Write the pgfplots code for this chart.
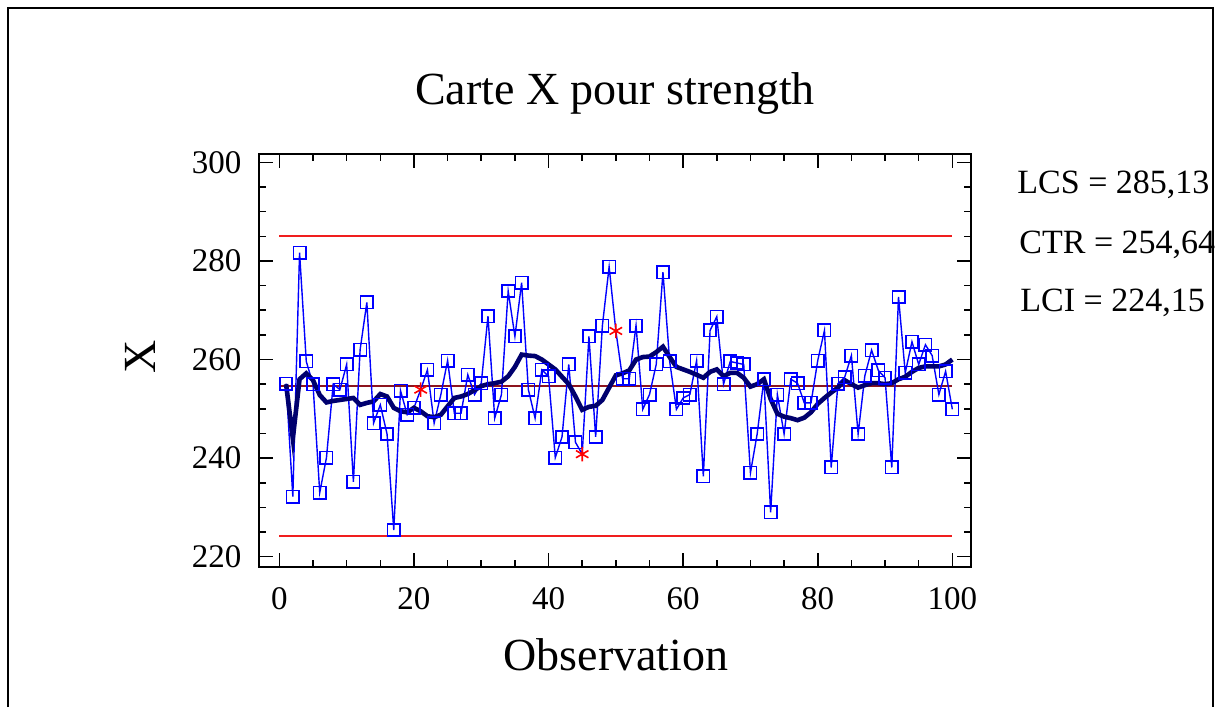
\documentclass[border=0pt]{standalone}
\usepackage{pgfplots}
\pgfplotsset{compat=1.18}
\usepackage{pgfplotstable}
\usepackage{fontspec}
\setmainfont{Liberation Serif}

\definecolor{obsblue}{RGB}{0,0,255}
\definecolor{limred}{RGB}{240,30,30}
\definecolor{ctrred}{RGB}{140,20,30}
\definecolor{smoothnavy}{RGB}{0,0,110}

% individual observations; flag r marks the points shown as red stars
\pgfplotstableread{
n x flag
1 255.1 n
2 232.2 n
3 281.7 n
4 259.6 n
5 255.0 n
6 233.0 n
7 240.1 n
8 255.0 n
9 253.9 n
10 259.0 n
11 235.2 n
12 262.0 n
13 271.6 n
14 247.1 n
15 250.8 n
16 244.9 n
17 225.4 n
18 253.7 n
19 248.8 n
20 250.2 n
21 253.9 r
22 257.9 n
23 247.1 n
24 252.9 n
25 259.8 n
26 249.1 n
27 249.1 n
28 256.9 n
29 252.9 n
30 255.2 n
31 268.8 n
32 248.1 n
33 252.9 n
34 273.9 n
35 264.7 n
36 275.6 n
37 253.9 n
38 248.1 n
39 257.9 n
40 256.6 n
41 240.1 n
42 244.3 n
43 259.0 n
44 243.2 n
45 240.8 r
46 264.7 n
47 244.3 n
48 266.9 n
49 278.8 n
50 265.8 r
51 256.1 n
52 256.1 n
53 266.9 n
54 249.9 n
55 252.9 n
56 259.0 n
57 277.7 n
58 259.6 n
59 249.9 n
60 252.2 n
61 252.9 n
62 259.8 n
63 236.3 n
64 265.9 n
65 268.7 n
66 255.0 n
67 259.6 n
68 259.3 n
69 259.0 n
70 237.0 n
71 244.9 n
72 256.0 n
73 229.0 n
74 252.9 n
75 244.9 n
76 256.0 n
77 255.2 n
78 251.2 n
79 251.2 n
80 259.8 n
81 265.9 n
82 238.1 n
83 255.1 n
84 256.4 n
85 260.8 n
86 244.9 n
87 256.7 n
88 261.9 n
89 257.8 n
90 256.3 n
91 238.1 n
92 272.7 n
93 257.3 n
94 263.6 n
95 259.0 n
96 263.0 n
97 260.8 n
98 252.9 n
99 257.6 n
100 249.9 n
}\strengthdata

% smoothed trace
\pgfplotstableread{
n s
1 255.0
2 244.0
3 256.0
4 257.2
5 255.8
6 252.8
7 251.3
8 251.6
9 251.8
10 252.0
11 252.2
12 250.8
13 251.2
14 251.5
15 253.0
16 252.5
17 250.2
18 249.5
19 249.3
20 250.2
21 249.5
22 248.5
23 248.3
24 248.8
25 250.5
26 252.2
27 252.5
28 253.0
29 253.8
30 254.6
31 255.0
32 255.2
33 255.5
34 256.6
35 258.5
36 261.0
37 260.8
38 260.7
39 260.0
40 259.0
41 258.0
42 256.5
43 255.0
44 252.5
45 249.8
46 250.4
47 250.6
48 251.8
49 254.3
50 256.8
51 257.2
52 257.8
53 260.0
54 260.5
55 260.6
56 261.5
57 262.6
58 260.5
59 258.5
60 258.0
61 257.5
62 256.9
63 256.3
64 257.5
65 258.0
66 256.6
67 257.3
68 257.3
69 256.3
70 254.5
71 255.0
72 256.0
73 252.0
74 249.0
75 248.4
76 248.1
77 247.7
78 248.2
79 249.3
80 251.0
81 252.2
82 253.3
83 254.3
84 255.8
85 255.0
86 254.3
87 254.8
88 255.2
89 255.2
90 255.0
91 255.2
92 256.0
93 256.5
94 257.5
95 258.3
96 258.6
97 258.6
98 258.6
99 259.0
100 260.0
}\smoothdata

\begin{document}
\begin{tikzpicture}
\useasboundingbox (0pt,0pt) rectangle (609.5pt,-353.5pt);
\draw[line width=1.1pt] (4pt,-353.5pt) -- (4pt,-4pt) -- (606.5pt,-4pt) -- (606.5pt,-353.5pt);

\node[anchor=base, font=\fontsize{23}{27}\selectfont] at (307.5pt,-52pt) {Carte X pour strength};
\node[anchor=base, font=\fontsize{23}{27}\selectfont] at (308pt,-335pt) {Observation};
\node[rotate=90, font=\fontsize{23}{27}\selectfont] at (70pt,-178.5pt) {X};

\node[anchor=base west, inner sep=0pt, font=\fontsize{17}{20}\selectfont] at (508.5pt,-96.5pt) {LCS = 285,13};
\node[anchor=base west, inner sep=0pt, font=\fontsize{17}{20}\selectfont] at (509.5pt,-126.5pt) {CTR = 254,64};
\node[anchor=base west, inner sep=0pt, font=\fontsize{17}{20}\selectfont] at (510pt,-155.5pt) {LCI = 224,15};

\begin{axis}[
  at={(129.25pt,-283.5pt)}, anchor=south west,
  scale only axis, width=356pt, height=206.5pt,
  xmin=-3.1, xmax=102.7, ymin=217.9, ymax=301.7,
  xtick={0,20,...,100}, ytick={220,240,...,300},
  minor x tick num=3, minor y tick num=3,
  tick align=inside,
  major tick length=7pt, minor tick length=3.5pt,
  axis line style={line width=1pt},
  every tick/.style={black, line width=0.8pt},
  tick label style={font=\fontsize{16.5}{19}\selectfont},
  yticklabel style={xshift=-5pt},
  xticklabel style={yshift=-6.5pt},
  /pgf/number format/assume math mode=true,
  clip=false,
]
\addplot[limred, line width=0.9pt] coordinates {(0,285.13) (100,285.13)};
\addplot[limred, line width=0.9pt] coordinates {(0,224.15) (100,224.15)};
\addplot[ctrred, line width=0.9pt] coordinates {(0,254.64) (100,254.64)};
\addplot[obsblue, line width=0.7pt, mark=none] table[x=n, y=x] {\strengthdata};
\addplot[scatter, only marks, point meta=explicit symbolic,
  scatter/classes={
    n={mark=square, mark size=3.1pt, draw=obsblue, line width=0.8pt},
    r={mark=asterisk, mark size=3.6pt, draw=red, line width=0.8pt}}]
  table[x=n, y=x, meta=flag] {\strengthdata};
\addplot[smoothnavy, line width=2.3pt, mark=none] table[x=n, y=s] {\smoothdata};
\end{axis}
\end{tikzpicture}
\end{document}
